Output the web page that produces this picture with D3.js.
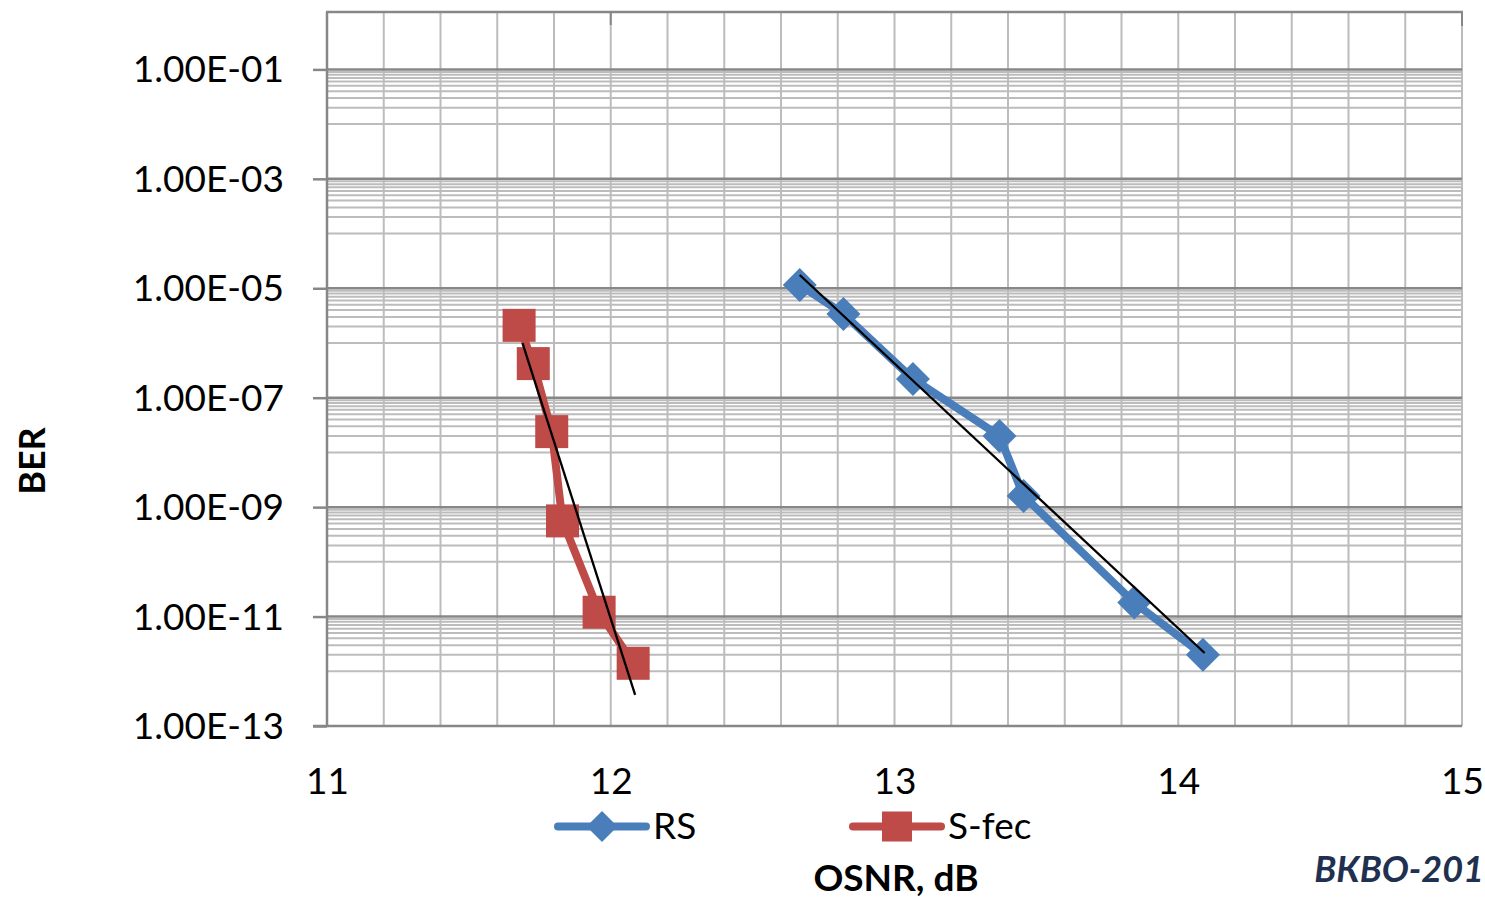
<!DOCTYPE html>
<html>
<head>
<meta charset="utf-8">
<script src="https://cdn.jsdelivr.net/npm/d3@7"></script>
<style>
  html, body { margin: 0; padding: 0; background: #fff; }
  svg { display: block; }
  text { font-family: Lato, "Open Sans", sans-serif; fill: #000; }
</style>
</head>
<body>
<svg id="chart" width="1485" height="898"></svg>
<script>
// ---- data ----
const seriesNames = ["RS", "S-fec"];
const rsOSNR = [12.666, 12.82, 13.065, 13.37, 13.455, 13.845, 14.087];
const rsBER  = [1.15e-5, 3.4e-6, 2.2e-7, 2.0e-8, 1.6e-9, 1.8e-11, 2.0e-12];
const sfecOSNR = [11.677, 11.727, 11.792, 11.830, 11.959, 12.079];
const sfecBER  = [2.1e-6, 4.2e-7, 2.4e-8, 5.6e-10, 1.2e-11, 1.4e-12];
// trend lines (endpoints)
const rsTrendOSNR = [12.666, 14.093];
const rsTrendBER  = [1.75e-5, 2.16e-12];
const sfecTrendOSNR = [11.689, 12.086];
const sfecTrendBER  = [9.9e-7, 3.7e-13];
// axis ticks
const xTicks = [11, 12, 13, 14, 15];
const yTicks = [1e-1, 1e-3, 1e-5, 1e-7, 1e-9, 1e-11, 1e-13];
const yTickLabels = ["1.00E-01", "1.00E-03", "1.00E-05", "1.00E-07", "1.00E-09", "1.00E-11", "1.00E-13"];
const xTitle = "OSNR, dB";
const yTitle = "BER";
const watermark = "ВКВО-201";

// ---- layout ----
const svg = d3.select("#chart");
const L = 327, R = 1462, T = 12, B = 726;
const x = d3.scaleLinear().domain([11, 15]).range([L, R]);
const y = d3.scaleLog().domain([1e-13, 1e-1]).range([B, 69.4]);

const blue = "#4a7ebb", red = "#be4b48";
const minorCol = "#bcbcbc", majorCol = "#878787";

const grid = svg.append("g");
// vertical gridlines every 0.2
const vx = d3.range(56).map(i => 11 + i * 0.2).filter(v => v <= 15.0001 && v > 11.0001);
grid.selectAll("line.v").data(vx).join("line")
  .attr("x1", d => x(d)).attr("x2", d => x(d))
  .attr("y1", T).attr("y2", B)
  .attr("stroke", minorCol).attr("stroke-width", 2);

// minor horizontal gridlines: k*10^(e-1) for k=1..9 below each major 10^e
const minors = [];
yTicks.forEach(m => {
  if (m <= 1e-13) return;
  for (let k = 1; k <= 9; k++) minors.push(k * m / 10);
});
grid.selectAll("line.hmin").data(minors).join("line")
  .attr("x1", L).attr("x2", R)
  .attr("y1", d => y(d)).attr("y2", d => y(d))
  .attr("stroke", minorCol).attr("stroke-width", 2);

// major horizontal gridlines
grid.selectAll("line.hmaj").data(yTicks.filter(d => d > 1e-13)).join("line")
  .attr("x1", L).attr("x2", R)
  .attr("y1", d => y(d)).attr("y2", d => y(d))
  .attr("stroke", majorCol).attr("stroke-width", 2.5);

// top border
grid.append("line").attr("x1", L - 1).attr("x2", R + 1).attr("y1", T).attr("y2", T)
  .attr("stroke", majorCol).attr("stroke-width", 2.5);
grid.append("line").attr("x1", x(12)).attr("x2", x(12)).attr("y1", T).attr("y2", T + 13)
  .attr("stroke", majorCol).attr("stroke-width", 2);
grid.append("line").attr("x1", R).attr("x2", R).attr("y1", T).attr("y2", T + 14)
  .attr("stroke", majorCol).attr("stroke-width", 2);

// y axis (left)
const yAxis = d3.axisLeft(y).tickValues(yTicks).tickSize(14)
  .tickFormat((d, i) => yTickLabels[i]).tickPadding(29);
const gy = svg.append("g").attr("transform", `translate(${L},0)`).call(yAxis);
gy.select(".domain").attr("stroke", majorCol).attr("stroke-width", 2.5)
  .attr("d", `M0,${T}V${B}`);
gy.selectAll(".tick line").attr("stroke", majorCol).attr("stroke-width", 2.5);
gy.selectAll(".tick text").attr("font-family", "Lato, sans-serif").attr("font-size", 37)
  .attr("fill", "#000").attr("dy", "0.34em");

// x axis (bottom)
const xAxis = d3.axisBottom(x).tickValues(xTicks).tickSize(0).tickPadding(42)
  .tickFormat(d3.format("d"));
const gx = svg.append("g").attr("transform", `translate(0,${B})`).call(xAxis);
gx.select(".domain").attr("stroke", majorCol).attr("stroke-width", 2.5)
  .attr("d", `M${L - 14},0H${R}`);
gx.selectAll(".tick text").attr("font-family", "Lato, sans-serif").attr("font-size", 37)
  .attr("fill", "#000");

// ---- series ----
const line = d3.line().x(d => x(d[0])).y(d => y(d[1]));
const rsData = rsOSNR.map((v, i) => [v, rsBER[i]]);
const sfData = sfecOSNR.map((v, i) => [v, sfecBER[i]]);

const plot = svg.append("g");
plot.append("path").datum(rsData).attr("d", line)
  .attr("fill", "none").attr("stroke", blue).attr("stroke-width", 8)
  .attr("stroke-linejoin", "round").attr("stroke-linecap", "round");
plot.append("path").datum(sfData).attr("d", line)
  .attr("fill", "none").attr("stroke", red).attr("stroke-width", 8)
  .attr("stroke-linejoin", "round").attr("stroke-linecap", "round");

const diamond = s => `M0,${-s}L${s},0L0,${s}L${-s},0Z`;
plot.selectAll("path.rsm").data(rsData).join("path")
  .attr("d", diamond(17))
  .attr("transform", d => `translate(${x(d[0])},${y(d[1])})`)
  .attr("fill", blue);
plot.selectAll("rect.sfm").data(sfData).join("rect")
  .attr("x", d => x(d[0]) - 16.5).attr("y", d => y(d[1]) - 16.5)
  .attr("width", 33).attr("height", 33)
  .attr("fill", red);

// trend lines
const rsTrend = rsTrendOSNR.map((v, i) => [v, rsTrendBER[i]]);
const sfTrend = sfecTrendOSNR.map((v, i) => [v, sfecTrendBER[i]]);
[rsTrend, sfTrend].forEach(t => {
  plot.append("path").datum(t).attr("d", line)
    .attr("fill", "none").attr("stroke", "#000").attr("stroke-width", 2.3);
});

// ---- legend ----
const leg = svg.append("g");
const legItems = [
  { name: seriesNames[0], color: blue, x0: 558, marker: "diamond" },
  { name: seriesNames[1], color: red, x0: 853, marker: "square" }
];
const ly = 826.5;
legItems.forEach(it => {
  leg.append("line").attr("x1", it.x0).attr("x2", it.x0 + 88)
    .attr("y1", ly).attr("y2", ly)
    .attr("stroke", it.color).attr("stroke-width", 8).attr("stroke-linecap", "round");
  const cx = it.x0 + 44;
  if (it.marker === "diamond") {
    leg.append("path").attr("d", diamond(15.5))
      .attr("transform", `translate(${cx},${ly})`).attr("fill", it.color);
  } else {
    leg.append("rect").attr("x", cx - 15).attr("y", ly - 15)
      .attr("width", 30).attr("height", 30).attr("fill", it.color);
  }
  leg.append("text").attr("x", it.x0 + 95).attr("y", 838.5)
    .attr("font-size", 37).text(it.name);
});

// ---- titles ----
svg.append("text").attr("x", 896).attr("y", 891)
  .attr("text-anchor", "middle").attr("font-size", 37).attr("font-weight", "bold")
  .text(xTitle);
svg.append("text").attr("transform", "translate(45,461) rotate(-90)")
  .attr("text-anchor", "middle").attr("font-size", 36).attr("font-weight", "bold")
  .text(yTitle);
svg.append("text").attr("x", 1484).attr("y", 882)
  .attr("text-anchor", "end").attr("font-size", 36).attr("font-weight", "bold")
  .attr("font-style", "italic").style("fill", "#1f3050")
  .text(watermark);
</script>
</body>
</html>
